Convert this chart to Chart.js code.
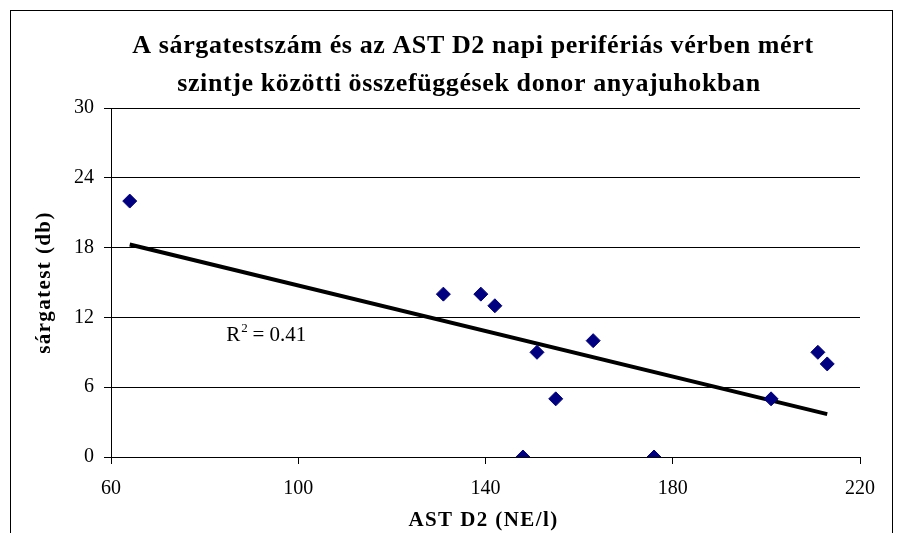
<!DOCTYPE html>
<html>
<head>
<meta charset="utf-8">
<title>Sárgatestszám és AST D2</title>
<script src="https://cdn.jsdelivr.net/npm/chart.js@4.4.1/dist/chart.umd.min.js"></script>
<style>
  html, body { margin: 0; padding: 0; background: #fff; overflow: hidden; }
  #wrap { position: relative; width: 899px; height: 533px; }
</style>
</head>
<body>
<div id="wrap"><canvas id="scatterChart" width="899" height="533"></canvas></div>
<script>
const titleLines = [
  'A sárgatestszám és az AST D2 napi perifériás vérben mért',
  'szintje közötti összefüggések donor anyajuhokban'
];
const xTitle = 'AST D2 (NE/l)';
const yTitle = 'sárgatest (db)';

// AST D2 (NE/l) and corpus luteum count per ewe
const astValues = [64, 131, 139, 142, 151, 155, 148, 163, 176, 201, 211, 213];
const clCounts = [22, 14, 14, 13, 9, 5, 0, 10, 0, 5, 9, 8];

const xTicks = [60, 100, 140, 180, 220];
const yTicks = [0, 6, 12, 18, 24, 30];

const serif = "'Liberation Serif', 'Times New Roman', serif";

// least squares trend line, as in the spreadsheet
const n = astValues.length;
const mx = astValues.reduce((a, b) => a + b, 0) / n;
const my = clCounts.reduce((a, b) => a + b, 0) / n;
let sxy = 0, sxx = 0, syy = 0;
astValues.forEach((x, i) => {
  sxy += (x - mx) * (clCounts[i] - my);
  sxx += (x - mx) * (x - mx);
  syy += (clCounts[i] - my) * (clCounts[i] - my);
});
const slope = sxy / sxx;
const intercept = my - slope * mx;
const r2 = (sxy * sxy) / (sxx * syy);
const xMin = Math.min(...astValues);
const xMax = Math.max(...astValues);
const trend = [
  { x: xMin, y: intercept + slope * xMin },
  { x: xMax, y: intercept + slope * xMax }
];

const frameAndText = {
  id: 'frameAndText',
  afterDraw(chart) {
    const ctx = chart.ctx;
    const xs = chart.scales.x;
    const ys = chart.scales.y;
    const area = chart.chartArea;
    ctx.save();
    // outer frame (bottom edge falls outside the picture)
    ctx.strokeStyle = '#000';
    ctx.lineWidth = 1;
    ctx.strokeRect(10.5, 10.5, 882, 600);

    // title
    ctx.fillStyle = '#000';
    ctx.textAlign = 'center';
    ctx.textBaseline = 'middle';
    ctx.font = 'bold 26px ' + serif;
    ctx.letterSpacing = '0.6px';
    ctx.fillText(titleLines[0], 473, 46);
    ctx.fillText(titleLines[1], 469, 84);

    // axis titles
    ctx.font = 'bold 21px ' + serif;
    ctx.letterSpacing = '1.4px';
    ctx.fillText(xTitle, (area.left + area.right) / 2 - 2, 521);
    ctx.save();
    ctx.translate(45, (area.top + area.bottom) / 2);
    ctx.rotate(-Math.PI / 2);
    ctx.fillText(yTitle, 0, 0);
    ctx.restore();

    // R² label
    ctx.letterSpacing = '0px';
    const lx = xs.getPixelForValue(84.6);
    const ly = ys.getPixelForValue(10.6);
    ctx.textAlign = 'left';
    ctx.textBaseline = 'alphabetic';
    ctx.font = '21px ' + serif;
    ctx.fillText('R', lx, ly + 7);
    const rw = ctx.measureText('R').width;
    ctx.font = '13px ' + serif;
    ctx.fillText('2', lx + rw + 1, ly - 2);
    ctx.font = '21px ' + serif;
    ctx.fillText(' = ' + r2.toFixed(2), lx + rw + 7, ly + 7);
    ctx.restore();
  }
};

new Chart(document.getElementById('scatterChart'), {
  type: 'scatter',
  data: {
    datasets: [
      {
        label: 'sárgatest',
        data: astValues.map((x, i) => ({ x: x, y: clCounts[i] })),
        pointStyle: 'rectRot',
        pointRadius: 7,
        pointHoverRadius: 7,
        backgroundColor: '#000080',
        borderColor: '#000080',
        borderWidth: 1,
        order: 1
      },
      {
        type: 'line',
        label: 'trend',
        data: trend,
        borderColor: '#000',
        borderWidth: 4,
        pointRadius: 0,
        fill: false,
        order: 2
      }
    ]
  },
  options: {
    responsive: false,
    animation: false,
    events: [],
    layout: { padding: { top: 108, left: 0, right: 39, bottom: 0 } },
    plugins: {
      legend: { display: false },
      tooltip: { enabled: false },
      title: { display: false }
    },
    scales: {
      x: {
        type: 'linear',
        min: 60,
        max: 220,
        afterBuildTicks: (s) => { s.ticks = xTicks.map(v => ({ value: v })); },
        afterFit: (s) => { s.height = 76; },
        grid: { drawOnChartArea: false, drawTicks: true, tickLength: 7, color: '#000' },
        border: { display: true, color: '#000', width: 1 },
        ticks: { color: '#000', padding: 13, maxRotation: 0, font: { family: serif, size: 20 } }
      },
      y: {
        type: 'linear',
        min: 0,
        max: 30,
        afterBuildTicks: (s) => { s.ticks = yTicks.map(v => ({ value: v })); },
        afterFit: (s) => { s.width = 111; },
        grid: { color: '#000', lineWidth: 1, tickLength: 7 },
        border: { display: true, color: '#000', width: 1 },
        ticks: { color: '#000', padding: 10, font: { family: serif, size: 20 } }
      }
    }
  },
  plugins: [frameAndText]
});
</script>
</body>
</html>
